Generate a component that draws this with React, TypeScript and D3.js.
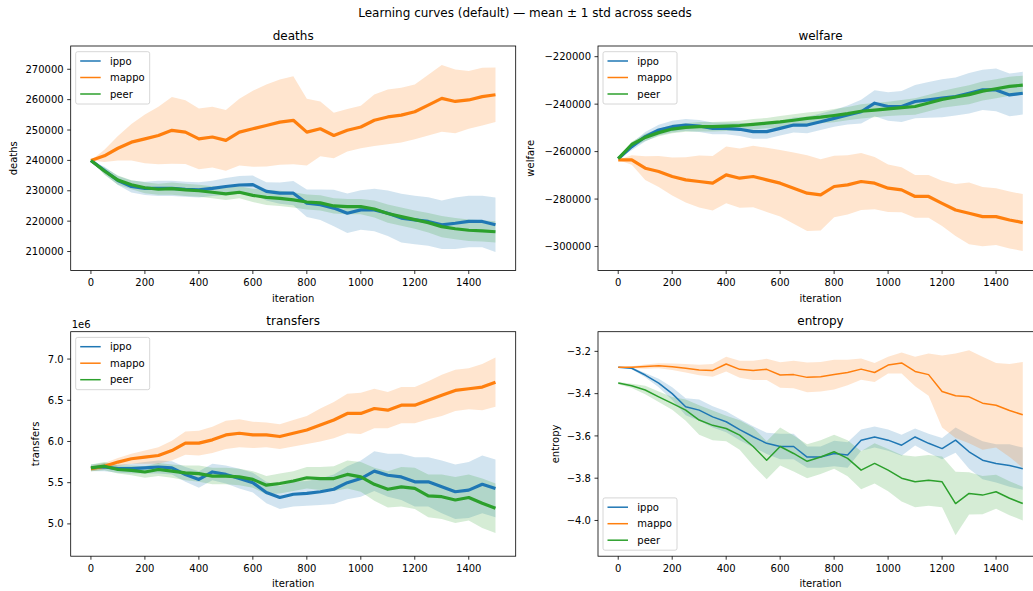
import React from "react";
import * as d3 from "d3";

const ITERATIONS = [
  0, 50, 100, 150, 200, 250, 300, 350, 400, 450, 500, 550, 600, 650, 700, 750,
  800, 850, 900, 950, 1000, 1050, 1100, 1150, 1200, 1250, 1300, 1350, 1400,
  1450, 1499,
];

const ALGOS = ["ippo", "mappo", "peer"];
const COLORS = ["#1f77b4", "#ff7f0e", "#2ca02c"];

/* deaths */
const DEATHS_IPPO = [
  240000, 236700, 233400, 231400, 230800, 230800, 230800, 230500, 230300,
  230800, 231400, 231900, 232000, 229800, 229200, 229200, 225900, 225400,
  224300, 222600, 223700, 223700, 222600, 221000, 220400, 219900, 218800,
  219300, 219900, 219900, 218800,
];
const DEATHS_IPPO_STD = [
  0, 1200, 1500, 2000, 2200, 2500, 2500, 2500, 2500, 2500, 2800, 3000, 3000,
  3000, 3500, 4000, 4500, 5000, 6000, 6500, 6500, 7000, 7500, 8000, 8000, 8000,
  8000, 8500, 8500, 8500, 9000,
];
const DEATHS_MAPPO = [
  240000, 241500, 244000, 246000, 247100, 248200, 249900, 249300, 247100,
  247700, 246600, 249300, 250400, 251500, 252600, 253200, 249300, 250400,
  248200, 249900, 251000, 253200, 254300, 254900, 256000, 258200, 260400,
  259400, 259900, 261000, 261600,
];
const DEATHS_MAPPO_STD = [
  0, 2000, 4000, 6000, 8000, 9500, 11000, 10500, 10000, 10000, 10000, 11000,
  12500, 13500, 14000, 14500, 11000, 9000, 7500, 7000, 7000, 8500, 9000, 9000,
  9000, 10000, 11000, 10500, 9500, 9500, 9000,
];
const DEATHS_PEER = [
  240000, 236500, 233500, 232000, 231000, 230500, 230700, 230300, 230000,
  229500, 229000, 229500, 228500, 227800, 227500, 227000, 226300, 226000,
  225000, 224800, 224800, 224000, 222500, 221500, 220500, 219500, 218200,
  217500, 217000, 216800, 216500,
];
const DEATHS_PEER_STD = [
  0, 1200, 1500, 1500, 1800, 1800, 2000, 2000, 2000, 2000, 2000, 2000, 2200,
  2500, 2500, 2500, 2500, 2500, 2500, 2500, 2500, 2800, 3000, 3000, 3000, 3200,
  3500, 3500, 3500, 3500, 3500,
];

/* welfare */
const WELFARE_IPPO = [
  -263000, -257900, -253700, -250900, -249500, -248800, -249200, -250200,
  -250200, -250600, -251600, -251600, -250200, -248800, -248800, -247400,
  -246000, -244600, -243200, -239600, -241000, -241000, -238900, -238200,
  -237500, -236800, -235400, -234000, -234000, -236100, -235400,
];
const WELFARE_IPPO_STD = [
  0, 1500, 2000, 2200, 2500, 2500, 2500, 2500, 2500, 2800, 3000, 3000, 3000,
  3200, 3500, 3500, 3500, 4000, 5000, 5500, 6000, 6500, 7000, 7500, 8000, 8000,
  8500, 8500, 9000, 9000, 9000,
];
const WELFARE_MAPPO = [
  -263500, -263500, -267000, -268400, -270500, -271900, -272600, -273300,
  -269800, -271200, -270500, -271900, -273300, -275400, -277500, -278200,
  -274700, -274000, -272600, -273300, -275400, -276100, -278900, -278900,
  -281800, -284600, -286000, -287400, -287400, -288800, -289900,
];
const WELFARE_MAPPO_STD = [
  0, 2000, 5000, 6500, 8000, 9500, 11000, 11500, 12000, 12500, 13000, 13500,
  14000, 15000, 16000, 15000, 13000, 12500, 12000, 11000, 10000, 9500, 9000,
  9000, 9500, 11000, 13000, 12500, 12000, 12000, 12000,
];
const WELFARE_PEER = [
  -263000, -257000, -254000, -252000, -250500, -249800, -249500, -249500,
  -249300, -249000, -248500, -248000, -247500, -246800, -246000, -245500,
  -244800, -244000, -243000, -242500, -242000, -241500, -241000, -239500,
  -238000, -237000, -236000, -234500, -233500, -232500, -232000,
];
const WELFARE_PEER_STD = [
  0, 1200, 1500, 1500, 1800, 1800, 2000, 2000, 2000, 2000, 2200, 2200, 2500,
  2500, 2500, 2500, 2800, 2800, 3000, 3000, 3000, 3200, 3500, 3500, 3500, 3800,
  4000, 4000, 4000, 4000, 4000,
];

/* transfers (x 1e6) */
const TRANSFERS_IPPO = [
  5.68, 5.69, 5.67, 5.67, 5.68, 5.69, 5.68, 5.6, 5.54, 5.63, 5.6, 5.55, 5.5,
  5.38, 5.32, 5.36, 5.37, 5.39, 5.42, 5.5, 5.55, 5.64, 5.59, 5.57, 5.51, 5.51,
  5.45, 5.39, 5.41, 5.48, 5.43,
];
const TRANSFERS_IPPO_STD = [
  0.04, 0.05, 0.05, 0.06, 0.07, 0.08, 0.08, 0.09, 0.1, 0.1, 0.11, 0.12, 0.12,
  0.13, 0.14, 0.15, 0.15, 0.16, 0.18, 0.2, 0.22, 0.24, 0.26, 0.28, 0.3, 0.3,
  0.32, 0.33, 0.34, 0.35, 0.35,
];
const TRANSFERS_MAPPO = [
  5.67, 5.7, 5.75, 5.79, 5.81, 5.83, 5.89, 5.98, 5.98, 6.02, 6.08, 6.1, 6.08,
  6.08, 6.06, 6.1, 6.14, 6.2, 6.26, 6.34, 6.34, 6.4, 6.38, 6.44, 6.44, 6.5,
  6.56, 6.62, 6.64, 6.66, 6.72,
];
const TRANSFERS_MAPPO_STD = [
  0.03, 0.04, 0.05, 0.06, 0.08, 0.1, 0.12, 0.14, 0.15, 0.16, 0.17, 0.17, 0.16,
  0.15, 0.15, 0.16, 0.17, 0.2, 0.22, 0.24, 0.25, 0.24, 0.22, 0.22, 0.22, 0.23,
  0.25, 0.25, 0.25, 0.28, 0.3,
];
const TRANSFERS_PEER = [
  5.68, 5.7, 5.66, 5.65, 5.63, 5.66, 5.64, 5.62, 5.61, 5.58, 5.58, 5.57, 5.54,
  5.47, 5.49, 5.52, 5.56, 5.55, 5.55, 5.6, 5.57, 5.48, 5.42, 5.45, 5.43, 5.34,
  5.33, 5.29, 5.32, 5.25, 5.19,
];
const TRANSFERS_PEER_STD = [
  0.04, 0.05, 0.05, 0.06, 0.07, 0.08, 0.08, 0.09, 0.1, 0.1, 0.1, 0.1, 0.1,
  0.11, 0.12, 0.12, 0.13, 0.14, 0.15, 0.17, 0.18, 0.2, 0.22, 0.24, 0.25, 0.26,
  0.27, 0.28, 0.28, 0.3, 0.3,
];

/* entropy */
const ENTROPY_IPPO = [
  -3.275, -3.28, -3.312, -3.35, -3.4, -3.462, -3.478, -3.51, -3.533, -3.57,
  -3.604, -3.635, -3.65, -3.65, -3.7, -3.7, -3.683, -3.69, -3.62, -3.605,
  -3.62, -3.644, -3.605, -3.635, -3.66, -3.62, -3.675, -3.715, -3.73, -3.74,
  -3.755,
];
const ENTROPY_IPPO_STD = [
  0, 0.005, 0.01, 0.02, 0.03, 0.04, 0.05, 0.05, 0.05, 0.05, 0.05, 0.05, 0.06,
  0.06, 0.05, 0.05, 0.06, 0.06, 0.05, 0.05, 0.05, 0.05, 0.04, 0.045, 0.05,
  0.06, 0.08, 0.09, 0.09, 0.1, 0.1,
];
const ENTROPY_MAPPO = [
  -3.275, -3.275, -3.272, -3.268, -3.273, -3.28, -3.288, -3.29, -3.26, -3.285,
  -3.29, -3.285, -3.312, -3.31, -3.323, -3.32, -3.31, -3.3, -3.284, -3.3,
  -3.265, -3.255, -3.295, -3.31, -3.39, -3.41, -3.415, -3.445, -3.455, -3.48,
  -3.5,
];
const ENTROPY_MAPPO_STD = [
  0, 0.005, 0.01, 0.012, 0.015, 0.02, 0.025, 0.03, 0.035, 0.04, 0.045, 0.05,
  0.06, 0.065, 0.07, 0.07, 0.07, 0.06, 0.05, 0.045, 0.04, 0.05, 0.07, 0.1,
  0.17, 0.2, 0.22, 0.22, 0.2, 0.22, 0.25,
];
const ENTROPY_PEER = [
  -3.35, -3.363, -3.383, -3.415, -3.446, -3.478, -3.525, -3.55, -3.565, -3.596,
  -3.65, -3.715, -3.65, -3.683, -3.72, -3.7, -3.675, -3.706, -3.762, -3.73,
  -3.762, -3.8, -3.817, -3.81, -3.817, -3.92, -3.872, -3.88, -3.864, -3.895,
  -3.92,
];
const ENTROPY_PEER_STD = [
  0.005, 0.01, 0.02, 0.025, 0.03, 0.05, 0.07, 0.07, 0.06, 0.07, 0.09, 0.09,
  0.09, 0.085, 0.08, 0.08, 0.08, 0.085, 0.09, 0.095, 0.1, 0.11, 0.12, 0.12,
  0.12, 0.15, 0.1, 0.09, 0.08, 0.08, 0.08,
];

const X_TICKS = [0, 200, 400, 600, 800, 1000, 1200, 1400];
const DEATHS_TICKS = [210000, 220000, 230000, 240000, 250000, 260000, 270000];
const WELFARE_TICKS = [-300000, -280000, -260000, -240000, -220000];
const TRANSFERS_TICKS = [5.0, 5.5, 6.0, 6.5, 7.0];
const ENTROPY_TICKS = [-4.0, -3.8, -3.6, -3.4, -3.2];

const W = 1033;
const H = 591;
const FONT = "DejaVu Sans, sans-serif";

const minus = (s: string) => s.replace("-", "\u2212");

type Spec = {
  title: string;
  left: number;
  top: number;
  yDomain: [number, number];
  yTicks: number[];
  fmt: (v: number) => string;
  ylabelOffset: number;
  legend: "upper" | "lower";
  lineWidth: number;
  means: number[][];
  stds: number[][];
  offsetText?: string;
};

const AX_W = 445;
const AX_H = 224.5;

const PANELS: Spec[] = [
  {
    title: "deaths",
    left: 70.7,
    top: 46,
    yDomain: [203750, 277660],
    yTicks: DEATHS_TICKS,
    fmt: (v) => String(v),
    ylabelOffset: 57.5,
    legend: "upper",
    lineWidth: 3.2,
    means: [DEATHS_IPPO, DEATHS_MAPPO, DEATHS_PEER],
    stds: [DEATHS_IPPO_STD, DEATHS_MAPPO_STD, DEATHS_PEER_STD],
  },
  {
    title: "welfare",
    left: 598,
    top: 46,
    yDomain: [-310100, -215500],
    yTicks: WELFARE_TICKS,
    fmt: (v) => minus(String(v)),
    ylabelOffset: 67.3,
    legend: "upper",
    lineWidth: 3.2,
    means: [WELFARE_IPPO, WELFARE_MAPPO, WELFARE_PEER],
    stds: [WELFARE_IPPO_STD, WELFARE_MAPPO_STD, WELFARE_PEER_STD],
  },
  {
    title: "transfers",
    left: 70.7,
    top: 331.7,
    yDomain: [4.608, 7.332],
    yTicks: TRANSFERS_TICKS,
    fmt: (v) => v.toFixed(1),
    ylabelOffset: 35.7,
    legend: "upper",
    lineWidth: 3.2,
    means: [TRANSFERS_IPPO, TRANSFERS_MAPPO, TRANSFERS_PEER],
    stds: [TRANSFERS_IPPO_STD, TRANSFERS_MAPPO_STD, TRANSFERS_PEER_STD],
    offsetText: "1e6",
  },
  {
    title: "entropy",
    left: 598,
    top: 331.7,
    yDomain: [-4.169, -3.107],
    yTicks: ENTROPY_TICKS,
    fmt: (v) => minus(v.toFixed(1)),
    ylabelOffset: 43,
    legend: "lower",
    lineWidth: 1.5,
    means: [ENTROPY_IPPO, ENTROPY_MAPPO, ENTROPY_PEER],
    stds: [ENTROPY_IPPO_STD, ENTROPY_MAPPO_STD, ENTROPY_PEER_STD],
  },
];

function Panel({ spec, idx }: { spec: Spec; idx: number }) {
  const bottom = spec.top + AX_H;
  const right = spec.left + AX_W;
  const x = d3
    .scaleLinear()
    .domain([-74.95, 1573.95])
    .range([spec.left, right]);
  const y = d3.scaleLinear().domain(spec.yDomain).range([bottom, spec.top]);

  const clipId = `clip-${idx}`;

  // legend box
  const lgW = 74;
  const lgH = 52.3;
  const lgX = spec.left + 5;
  const lgY = spec.legend === "upper" ? spec.top + 5.7 : bottom - 6 - lgH;

  return (
    <g>
      <defs>
        <clipPath id={clipId}>
          <rect x={spec.left} y={spec.top} width={AX_W} height={AX_H} />
        </clipPath>
      </defs>
      <g clipPath={`url(#${clipId})`}>
        {spec.means.map((m, k) => {
          const s = spec.stds[k];
          const band = d3
            .area<number>()
            .x((_, i) => x(ITERATIONS[i]))
            .y0((d, i) => y(d - s[i]))
            .y1((d, i) => y(d + s[i]));
          return (
            <path
              key={"b" + k}
              d={band(m) || ""}
              fill={COLORS[k]}
              fillOpacity={0.2}
              stroke="none"
            />
          );
        })}
        {spec.means.map((m, k) => {
          const line = d3
            .line<number>()
            .x((_, i) => x(ITERATIONS[i]))
            .y((d) => y(d));
          return (
            <path
              key={"l" + k}
              d={line(m) || ""}
              fill="none"
              stroke={COLORS[k]}
              strokeWidth={spec.lineWidth}
              strokeLinejoin="round"
            />
          );
        })}
      </g>

      {/* spines */}
      <rect
        x={spec.left}
        y={spec.top}
        width={AX_W}
        height={AX_H}
        fill="none"
        stroke="#000"
        strokeWidth={0.8}
      />

      {/* x axis */}
      {X_TICKS.map((t) => (
        <g key={"x" + t}>
          <line
            x1={x(t)}
            x2={x(t)}
            y1={bottom}
            y2={bottom + 3.5}
            stroke="#000"
            strokeWidth={0.8}
          />
          <text
            x={x(t)}
            y={bottom + 15.5}
            textAnchor="middle"
            fontSize={10}
            fontFamily={FONT}
          >
            {t}
          </text>
        </g>
      ))}
      <text
        x={spec.left + AX_W / 2}
        y={bottom + 31}
        textAnchor="middle"
        fontSize={10}
        fontFamily={FONT}
      >
        iteration
      </text>

      {/* y axis */}
      {spec.yTicks.map((t) => (
        <g key={"y" + t}>
          <line
            x1={spec.left - 3.5}
            x2={spec.left}
            y1={y(t)}
            y2={y(t)}
            stroke="#000"
            strokeWidth={0.8}
          />
          <text
            x={spec.left - 7}
            y={y(t) + 3.6}
            textAnchor="end"
            fontSize={10}
            fontFamily={FONT}
          >
            {spec.fmt(t)}
          </text>
        </g>
      ))}
      <text
        transform={`translate(${spec.left - spec.ylabelOffset},${
          spec.top + AX_H / 2
        }) rotate(-90)`}
        textAnchor="middle"
        dominantBaseline="central"
        fontSize={10}
        fontFamily={FONT}
      >
        {spec.title}
      </text>
      {spec.offsetText && (
        <text
          x={spec.left + 1}
          y={spec.top - 4}
          fontSize={10}
          fontFamily={FONT}
        >
          {spec.offsetText}
        </text>
      )}

      {/* title */}
      <text
        x={spec.left + AX_W / 2}
        y={spec.top - 6.5}
        textAnchor="middle"
        fontSize={12}
        fontFamily={FONT}
      >
        {spec.title}
      </text>

      {/* legend */}
      <g transform={`translate(${lgX},${lgY})`}>
        <rect
          width={lgW}
          height={lgH}
          rx={2}
          fill="#fff"
          fillOpacity={0.8}
          stroke="#cccccc"
          strokeWidth={0.8}
        />
        {ALGOS.map((a, k) => {
          const cy = 9.3 + k * 16.5;
          return (
            <g key={a}>
              <line
                x1={4.5}
                x2={25}
                y1={cy}
                y2={cy}
                stroke={COLORS[k]}
                strokeWidth={1.5}
              />
              <text x={34.3} y={cy + 3.6} fontSize={10} fontFamily={FONT}>
                {a}
              </text>
            </g>
          );
        })}
      </g>
    </g>
  );
}

export default function App() {
  return (
    <svg
      width={W}
      height={H}
      viewBox={`0 0 ${W} ${H}`}
      style={{ position: "absolute", left: 0, top: 0, background: "#fff" }}
    >
      <rect width={W} height={H} fill="#fff" />
      <text
        x={525}
        y={16.5}
        textAnchor="middle"
        fontSize={12}
        fontFamily={FONT}
      >
        Learning curves (default) — mean ± 1 std across seeds
      </text>
      {PANELS.map((p, i) => (
        <Panel key={p.title} spec={p} idx={i} />
      ))}
    </svg>
  );
}
